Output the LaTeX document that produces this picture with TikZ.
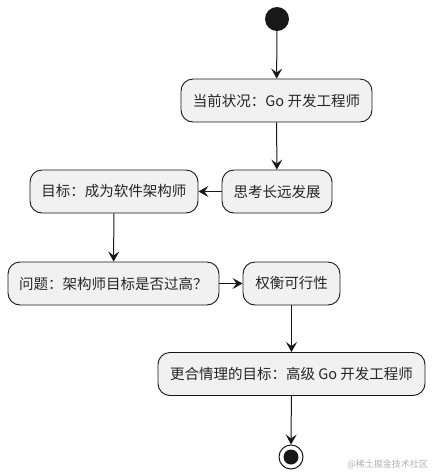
\documentclass[tikz,border=0pt]{standalone}
\usepackage{fontspec}
\newfontfamily\cjk{Noto Sans CJK SC}
\usetikzlibrary{arrows.meta}
\definecolor{boxfill}{HTML}{F1F1F1}
\definecolor{linecol}{HTML}{181818}
\tikzset{
  act/.style={draw=linecol, fill=boxfill, line width=0.9pt, rounded corners=12pt,
    minimum height=43pt, inner xsep=0pt, font=\cjk\fontsize{14.5}{16}\selectfont, text=black!85},
  flow/.style={draw=linecol, line width=1pt, -{Stealth[length=10pt,width=11pt,inset=4pt]}}
}
\begin{document}
\begin{tikzpicture}[x=1pt,y=-1pt]
\useasboundingbox (0,0) rectangle (432,475);
\fill[white] (0,0) rectangle (432,475);
\node[circle, fill=linecol, minimum size=24pt, inner sep=0pt] (start) at (277,19) {};
\node[act, minimum width=191pt] (n1) at (276.5,100.5) {当前状况：Go 开发工程师};
\node[act, minimum width=110pt] (n2) at (277,191.5) {思考长远发展};
\node[act, minimum width=168pt] (n3) at (114,191.5) {目标：成为软件架构师};
\node[act, minimum width=211pt] (n4) at (113.5,283.5) {问题：架构师目标是否过高？};
\node[act, minimum width=97pt] (n5) at (291.5,283.5) {权衡可行性};
\node[act, minimum width=267pt] (n6) at (291.5,374) {更合情理的目标：高级 Go 开发工程师};
\node[circle, draw=linecol, line width=1pt, fill=white, minimum size=24pt, inner sep=0pt] (end) at (291,457) {};
\node[circle, fill=linecol, minimum size=15pt, inner sep=0pt] (endin) at (end) {};
\draw[flow] (start) -- (n1);
\draw[flow] (n1) -- (n2);
\draw[flow] (n2) -- (n3);
\draw[flow] (n3) -- (n4);
\draw[flow] (n4) -- (n5);
\draw[flow] (n5) -- (n6);
\draw[flow] (n6) -- (end);
\node[anchor=east, text=black!30, font=\cjk\fontsize{9}{10}\selectfont, inner sep=0pt] (wm) at (428,464) {@稀土掘金技术社区};
\end{tikzpicture}
\end{document}
